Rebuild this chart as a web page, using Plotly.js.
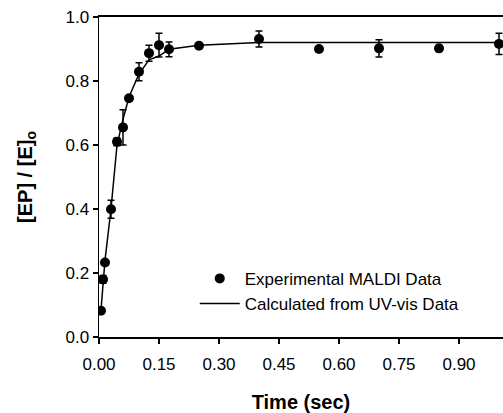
<!DOCTYPE html>
<html>
<head>
<meta charset="utf-8">
<script src="https://cdn.plot.ly/plotly-3.0.1.min.js"></script>
<style>html,body{margin:0;padding:0;background:#fff;}#chart{width:503px;height:413px;}</style>
</head>
<body>
<div id="chart"></div>
<script>
// Experimental MALDI data
const timeExp = [0.005, 0.01, 0.015, 0.03, 0.045, 0.06, 0.075, 0.10, 0.125, 0.15, 0.175, 0.25, 0.40, 0.55, 0.70, 0.85, 1.00];
const ratioExp = [0.082, 0.180, 0.233, 0.399, 0.610, 0.655, 0.746, 0.829, 0.887, 0.912, 0.899, 0.910, 0.931, 0.900, 0.902, 0.902, 0.916];
const errExp = [0.005, 0.012, 0.005, 0.028, 0.012, 0.055, 0.008, 0.028, 0.025, 0.037, 0.023, 0.006, 0.025, 0.005, 0.027, 0.005, 0.033];
// Calculated from UV-vis data
const timeCalc = [0.005, 0.01, 0.015, 0.03, 0.045, 0.06, 0.075, 0.10, 0.125, 0.15, 0.175, 0.25, 0.40, 0.55, 0.70, 0.85, 1.00, 1.01];
const ratioCalc = [0.085, 0.170, 0.240, 0.400, 0.600, 0.680, 0.750, 0.822, 0.866, 0.878, 0.899, 0.912, 0.920, 0.920, 0.920, 0.920, 0.920, 0.920];
const xTicks = [0, 0.15, 0.30, 0.45, 0.60, 0.75, 0.90];
const xTickText = ['0.00', '0.15', '0.30', '0.45', '0.60', '0.75', '0.90'];
const yTicks = [0, 0.2, 0.4, 0.6, 0.8, 1.0];
const yTickText = ['0.0', '0.2', '0.4', '0.6', '0.8', '1.0'];

const FONT = 'Liberation Sans, Arial, sans-serif';

const traces = [
  {
    x: timeExp, y: ratioExp, type: 'scatter', mode: 'markers',
    name: 'Experimental MALDI Data',
    marker: {color: '#000', size: 10, symbol: 'circle'},
    error_y: {type: 'data', array: errExp, visible: true, color: '#000', thickness: 1.5, width: 3.5}
  },
  {
    x: timeCalc, y: ratioCalc, type: 'scatter', mode: 'lines',
    name: 'Calculated from UV-vis Data',
    line: {color: '#000', width: 1.5}
  }
];

const layout = {
  width: 503, height: 413,
  margin: {l: 99, r: 0, t: 17, b: 76},
  paper_bgcolor: '#fff', plot_bgcolor: '#fff',
  font: {family: FONT, size: 17, color: '#000'},
  showlegend: true,
  legend: {
    x: 0.237, y: 0.238, xanchor: 'left', yanchor: 'top',
    bgcolor: 'rgba(0,0,0,0)', font: {family: FONT, size: 17, color: '#000'},
    tracegroupgap: 0, itemwidth: 40
  },
  xaxis: {
    range: [0, 1.01], tickvals: xTicks, ticktext: xTickText,
    showgrid: false, zeroline: false,
    showline: true, linecolor: '#000', linewidth: 2, mirror: true,
    ticks: 'outside', ticklen: 5, tickwidth: 1.5, tickcolor: '#000',
    ticklabelstandoff: 6,
    tickfont: {family: FONT, size: 17, color: '#000'},
    title: {text: '<b>Time (sec)</b>', font: {family: FONT, size: 20, color: '#000'}, standoff: 24}
  },
  yaxis: {
    range: [0, 1.0], tickvals: yTicks, ticktext: yTickText,
    showgrid: false, zeroline: false,
    showline: true, linecolor: '#000', linewidth: 1.5, mirror: false,
    ticks: 'outside', ticklen: 5, tickwidth: 1.5, tickcolor: '#000',
    tickfont: {family: FONT, size: 17, color: '#000'},
    title: {text: '<b>[EP] / [E]<sub>o</sub></b>', font: {family: FONT, size: 20, color: '#000'}, standoff: 27}
  }
};

Plotly.newPlot('chart', traces, layout, {displayModeBar: false, staticPlot: true});
</script>
</body>
</html>
